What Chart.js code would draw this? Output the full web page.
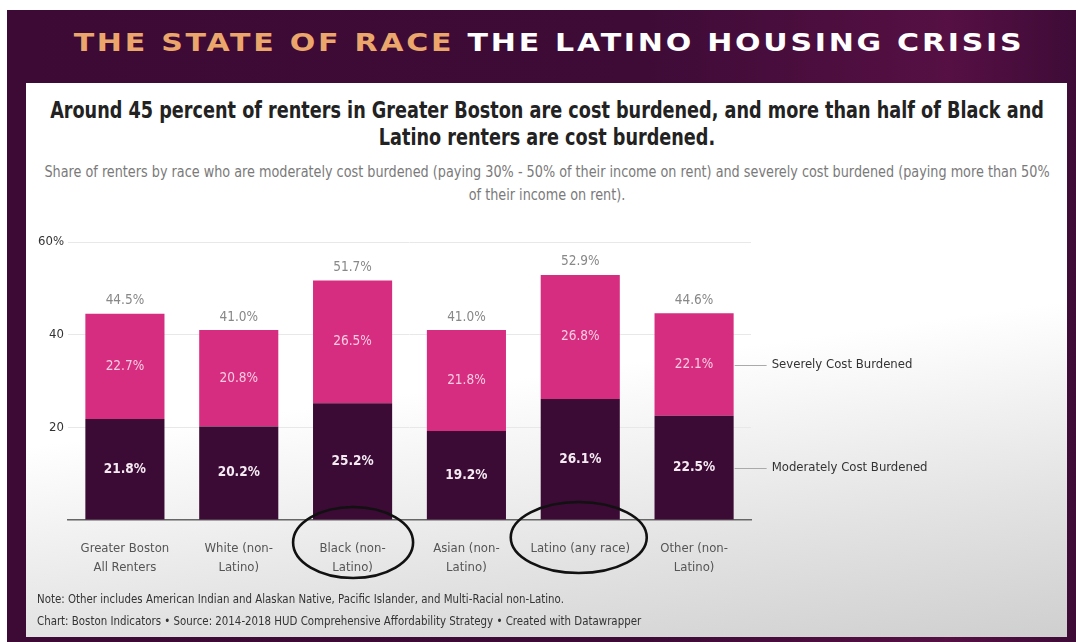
<!DOCTYPE html>
<html>
<head>
<meta charset="utf-8">
<script src="https://cdn.jsdelivr.net/npm/chart.js@4.4.1/dist/chart.umd.min.js"></script>
<style>
  html, body { margin: 0; padding: 0; background: #fff; }
  body { width: 1076px; height: 642px; position: relative; overflow: hidden; }
  .stage {
    position: absolute; left: 7px; top: 10px; right: 0; bottom: 0;
    background: linear-gradient(90deg, #3c0a35 0%, #3e0b37 60%, #561043 88%, #3e0b37 100%);
  }
  .header {
    position: absolute; left: 0; top: 28px; width: 1098px; text-align: center;
    font-family: "DejaVu Sans", sans-serif; font-weight: bold; font-size: 25px;
    letter-spacing: 2.3px; color: #fff; white-space: nowrap;
    transform: scaleX(1.2); transform-origin: 549px 0;
  }
  .header span { color: #eba66b; }
  .panel {
    position: absolute; left: 26px; top: 83px; width: 1041px; height: 554px;
    background: linear-gradient(172deg, #ffffff 0%, #ffffff 52%, #e2e2e2 80%, #cfcfcf 100%);
  }
  .title, .sub {
    position: absolute; left: -453px; width: 2000px; text-align: center; white-space: nowrap;
    font-family: "DejaVu Sans Condensed", "DejaVu Sans", sans-serif;
    transform-origin: 1000px 0;
  }
  .title { top: 97px; font-weight: bold; font-size: 23px; line-height: 27px; color: #222; transform: scaleX(0.853); }
  .sub { top: 161px; font-size: 15px; line-height: 23px; color: #7a7a7a; transform: scaleX(0.95); }
  .notes {
    position: absolute; left: 37px; top: 588px; white-space: nowrap;
    font-family: "DejaVu Sans Condensed", "DejaVu Sans", sans-serif;
    font-size: 12.5px; line-height: 22px; color: #333;
    transform: scaleX(0.91); transform-origin: 0 0;
  }
  #wrap { position: absolute; left: 26px; top: 225px; width: 1041px; height: 365px; }
</style>
</head>
<body>
<div class="stage"></div>
<div class="header"><span>THE STATE OF RACE</span> THE LATINO HOUSING CRISIS</div>
<div class="panel"></div>
<div class="title">Around 45 percent of renters in Greater Boston are cost burdened, and more than half of Black and<br>Latino renters are cost burdened.</div>
<div class="sub">Share of renters by race who are moderately cost burdened (paying 30% - 50% of their income on rent) and severely cost burdened (paying more than 50%<br>of their income on rent).</div>
<div id="wrap"><canvas id="chart" width="1041" height="365"></canvas></div>
<div class="notes">Note: Other includes American Indian and Alaskan Native, Pacific Islander, and Multi-Racial non-Latino.<br>Chart: Boston Indicators &bull; Source: 2014-2018 HUD Comprehensive Affordability Strategy &bull; Created with Datawrapper</div>

<script>
const categories = [
  ['Greater Boston', 'All Renters'],
  ['White (non-', 'Latino)'],
  ['Black (non-', 'Latino)'],
  ['Asian (non-', 'Latino)'],
  ['Latino (any race)'],
  ['Other (non-', 'Latino)']
];
const moderate = [21.8, 20.2, 25.2, 19.2, 26.1, 22.5];
const severe = [22.7, 20.8, 26.5, 21.8, 26.8, 22.1];
const totals = [44.5, 41.0, 51.7, 41.0, 52.9, 44.6];
const seriesNames = ['Moderately Cost Burdened', 'Severely Cost Burdened'];
const yTicks = [0, 20, 40, 60];
const circled = [2, 4];

const font = '"DejaVu Sans Condensed", "DejaVu Sans", sans-serif';

// value labels inside segments and totals above the bars
const labelPlugin = {
  id: 'labels',
  afterDatasetsDraw(chart) {
    const ctx = chart.ctx;
    ctx.save();
    ctx.textAlign = 'center';
    ctx.textBaseline = 'middle';
    chart.data.datasets.forEach((ds, di) => {
      const meta = chart.getDatasetMeta(di);
      meta.data.forEach((bar, i) => {
        ctx.font = (di === 0 ? 'bold ' : '') + '13.5px ' + font;
        ctx.fillStyle = di === 0 ? '#f4eaf2' : '#f8cde2';
        ctx.fillText(ds.data[i].toFixed(1) + '%', bar.x, (bar.y + bar.base) / 2);
      });
    });
    const top = chart.getDatasetMeta(1);
    ctx.font = '13.5px ' + font;
    ctx.fillStyle = '#888';
    top.data.forEach((bar, i) => {
      ctx.fillText(totals[i].toFixed(1) + '%', bar.x, bar.y - 13);
    });

    // series labels to the right of the last bar
    const last = categories.length - 1;
    ctx.textAlign = 'left';
    ctx.font = '13px ' + font;
    chart.data.datasets.forEach((ds, di) => {
      const bar = chart.getDatasetMeta(di).data[last];
      const y = (bar.y + bar.base) / 2;
      const x0 = bar.x + bar.width / 2 + 1;
      ctx.strokeStyle = '#aaa';
      ctx.lineWidth = 1;
      ctx.beginPath();
      ctx.moveTo(x0, Math.round(y) + 0.5);
      ctx.lineTo(x0 + 32, Math.round(y) + 0.5);
      ctx.stroke();
      ctx.fillStyle = '#333';
      ctx.fillText(ds.label, x0 + 37, y);
    });
    ctx.restore();
  }
};

// hand-drawn circles around two of the category labels
const circlePlugin = {
  id: 'circles',
  afterDraw(chart) {
    const ctx = chart.ctx;
    const x = chart.scales.x;
    const base = chart.chartArea.bottom;
    ctx.save();
    ctx.strokeStyle = '#111';
    ctx.lineWidth = 2.6;
    circled.forEach((idx, k) => {
      const cx = x.getPixelForValue(idx) + (k === 0 ? 0.5 : -1.5);
      const cy = base + (k === 0 ? 22.5 : 17.5);
      const rx = k === 0 ? 60 : 68;
      ctx.beginPath();
      ctx.ellipse(cx, cy, rx, 35.5, 0, 0, Math.PI * 2);
      ctx.stroke();
    });
    ctx.restore();
  }
};

new Chart(document.getElementById('chart'), {
  type: 'bar',
  data: {
    labels: categories,
    datasets: [
      { label: seriesNames[0], data: moderate, backgroundColor: '#3b0a35' },
      { label: seriesNames[1], data: severe, backgroundColor: '#d62d80' }
    ]
  },
  options: {
    responsive: false,
    animation: false,
    layout: { padding: { left: 0, right: 316, top: 17, bottom: 0 } },
    datasets: { bar: { categoryPercentage: 1, barPercentage: 0.695 } },
    plugins: { legend: { display: false }, tooltip: { enabled: false } },
    scales: {
      x: {
        stacked: true,
        grid: { display: false },
        border: { display: true, color: '#666', width: 1.5 },
        ticks: { color: '#555', padding: 12, font: { family: font, size: 13, lineHeight: 1.4 } },
        afterFit(s) { s.height = 70; }
      },
      y: {
        stacked: true,
        min: 0,
        max: 60,
        afterBuildTicks(s) { s.ticks = yTicks.map(v => ({ value: v })); },
        grid: { color: '#e8e8e8', drawTicks: false },
        border: { display: false },
        ticks: {
          color: '#333',
          padding: 4,
          font: { family: font, size: 13 },
          callback: v => v === 60 ? '60%' : (v === 0 ? '' : v)
        },
        afterFit(s) { s.width = 42; }
      }
    }
  },
  plugins: [labelPlugin, circlePlugin]
});
</script>
</body>
</html>
